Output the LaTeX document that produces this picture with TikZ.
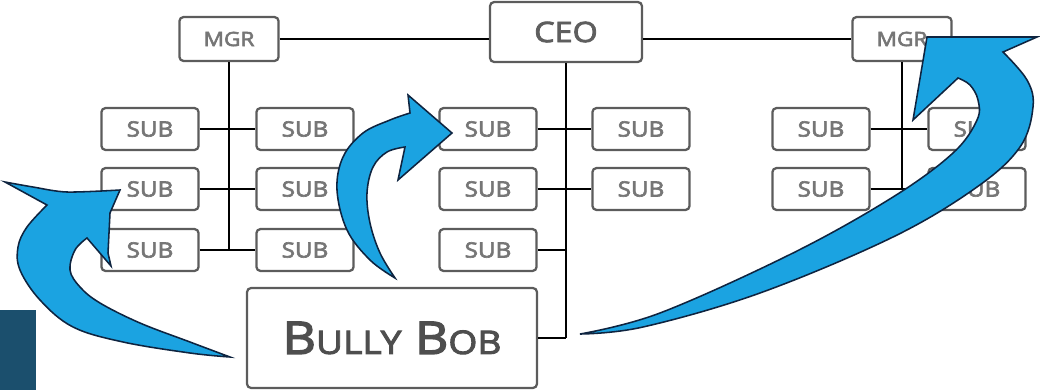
\documentclass[tikz,border=0pt]{standalone}
\usepackage{fontspec}
\setmainfont{Open Sans}
\newfontfamily\orgfont[FakeBold=3, FakeStretch=1.15]{Open Sans}
\usetikzlibrary{positioning}

\definecolor{boxgray}{HTML}{5C5C5C}
\definecolor{txtgray}{HTML}{767676}
\definecolor{bobgray}{HTML}{4E4E4E}
\definecolor{arrowblue}{HTML}{1BA3E1}
\definecolor{arrowedge}{HTML}{0E2440}
\definecolor{darkteal}{HTML}{1B4F6D}

\begin{document}
\begin{tikzpicture}[x=0.025cm, y=-0.025cm,
    box/.style={draw=boxgray, line width=1.6pt, rounded corners=3pt, fill=white,
      text=txtgray, inner sep=0pt},
    subbox/.style={box, minimum width=2.43cm, minimum height=1.05cm,
      font=\orgfont\fontsize{15}{15}\selectfont},
    mgrbox/.style={box, minimum width=2.48cm, minimum height=1.1cm,
      font=\orgfont\fontsize{14}{14}\selectfont},
    link/.style={line width=1.7pt, black},
    bigarrow/.style={fill=arrowblue, draw=arrowedge, line width=1.1pt, line join=miter}]

        \useasboundingbox (0,0) rectangle (1040,390);

        %\draw[help lines, step=50] (0,0) grid (1040,390);

        \fill[darkteal] (0,310) rectangle (36,390);

        % top row
        \node[box, minimum width=3.8cm, minimum height=1.5cm, text=txtgray!80!black,
          font=\orgfont\fontsize{20}{20}\selectfont] (ceo) at (566,32) {CEO};
        \node[mgrbox] (mgrL) at (229,39) {MGR};
        \node[mgrbox] (mgrR) at (902,39) {MGR};

        % left group
        \node[subbox] (l11) at (150,129) {SUB};
        \node[subbox] (l12) at (305,129) {SUB};
        \node[subbox] (l21) at (150,189) {SUB};
        \node[subbox] (l22) at (305,189) {SUB};
        \node[subbox] (l31) at (150,250) {SUB};
        \node[subbox] (l32) at (305,250) {SUB};

        % centre group
        \node[subbox] (c11) at (488,129) {SUB};
        \node[subbox] (c12) at (641,129) {SUB};
        \node[subbox] (c21) at (488,189) {SUB};
        \node[subbox] (c22) at (641,189) {SUB};
        \node[subbox] (c31) at (488,250) {SUB};

        % right group
        \node[subbox] (r11) at (821,129) {SUB};
        \node[subbox] (r12) at (977,129) {SUB};
        \node[subbox] (r21) at (821,189) {SUB};
        \node[subbox] (r22) at (977,189) {SUB};

        \node[box, minimum width=7.25cm, minimum height=2.5cm, text=bobgray] (bob) at (392,338)
          {\orgfont\fontsize{32}{32}\selectfont B{\fontsize{23}{23}\selectfont ULLY} B{\fontsize{23}{23}\selectfont OB}};

        % connectors
        \draw[link] (mgrL.east) -- (mgrL.east -| ceo.west);
        \draw[link] (ceo.east |- mgrR.west) -- (mgrR.west);

        \draw[link] (mgrL.south) -- (mgrL.south |- l31.east);
        \draw[link] (l11.east) -- (l12.west);
        \draw[link] (l21.east) -- (l22.west);
        \draw[link] (l31.east) -- (l32.west);

        \draw[link] (ceo.south) -- (ceo.south |- bob.east);
        \draw[link] (c11.east) -- (c12.west);
        \draw[link] (c21.east) -- (c22.west);
        \draw[link] (c31.east) -- (c31.east -| ceo.south);
        \draw[link] (bob.east) -- (bob.east -| ceo.south);

        \draw[link] (mgrR.south) -- (mgrR.south |- r21.east);
        \draw[link] (r11.east) -- (r12.west);
        \draw[link] (r21.east) -- (r22.west);

        % blue arrows
        \filldraw[bigarrow] (230,357)
          -- plot[smooth, tension=0.6] coordinates {(230,357) (190,353) (123,342) (73,327) (40,300) (20,270) (18,247) (27,227) (47,205)}
          -- (5,182) -- plot[smooth, tension=0.5] coordinates {(5,182) (33,187) (67,192) (120,190)}
          -- (110,213) -- (108,253) -- (111,266) -- (87,238)
          -- plot[smooth, tension=0.6] coordinates {(87,238) (75,250) (70,270) (80,287) (100,303) (140,323) (190,342) (230,357)} -- cycle;

        \filldraw[bigarrow] (395,278)
          -- plot[smooth, tension=0.6] coordinates {(395,278) (370,260) (347,230) (337,190) (343,157) (363,133) (390,120) (410,113)}
          -- (408,95) -- (452,133) -- (398,180) -- (405,147)
          -- plot[smooth, tension=0.6] coordinates {(405,147) (387,152) (373,167) (367,193) (370,223) (380,253) (395,278)} -- cycle;

        \filldraw[bigarrow] (580,334)
          -- plot[smooth, tension=0.6] coordinates {(580,334) (643,327) (760,293) (893,237) (977,187) (1020,147) (1033,107) (1027,80) (1003,52)}
          -- (1037,37) -- (927,37) -- (913,120) -- (958,78)
          -- plot[smooth, tension=0.6] coordinates {(958,78) (970,85) (978,100) (977,120) (953,153) (893,197) (793,253) (660,313) (580,334)} -- cycle;
      \end{tikzpicture}
\end{document}
